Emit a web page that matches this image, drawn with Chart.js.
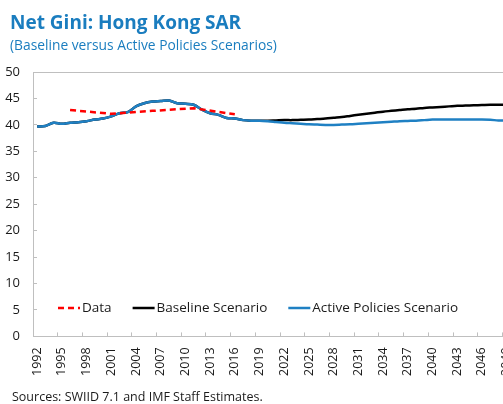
<!DOCTYPE html>
<html>
<head>
<meta charset="utf-8">
<script src="https://cdn.jsdelivr.net/npm/chart.js@4.4.0/dist/chart.umd.min.js"></script>
<style>
  html, body { margin: 0; padding: 0; background: #fff; overflow: hidden; }
  #c { display: block; }
</style>
</head>
<body>
<canvas id="c" width="503" height="404" style="width:503px;height:404px"></canvas>
<script>
const years = [];
for (let y = 1992; y <= 2050; y++) years.push(String(y));

const dataSeries = [
  null, null, null, null, 42.8, null, null, null, null, 42.1,
  null, null, null, null, 42.65, null, null, null, null, 43.15,
  null, null, null, null, 42.0
];

const baseline = [
  39.7, 39.8, 40.4, 40.2, 40.4, 40.5, 40.7, 41.0, 41.2, 41.6,
  42.2, 42.4, 43.5, 44.1, 44.4, 44.5, 44.6, 44.1, 44.0, 43.8,
  42.9, 42.2, 41.9, 41.3, 41.2, 40.9, 40.8, 40.8, 40.8, 40.85,
  40.9, 40.9, 40.95, 41.0, 41.1, 41.2, 41.35, 41.5, 41.7, 41.9,
  42.1, 42.3, 42.5, 42.65, 42.8, 42.95, 43.05, 43.2, 43.3, 43.4,
  43.5, 43.6, 43.65, 43.7, 43.75, 43.8, 43.8, 43.8, 43.8
];

const activePolicies = [
  39.7, 39.8, 40.4, 40.2, 40.4, 40.5, 40.7, 41.0, 41.2, 41.6,
  42.2, 42.4, 43.5, 44.1, 44.4, 44.5, 44.6, 44.1, 44.0, 43.8,
  42.9, 42.2, 41.9, 41.3, 41.2, 40.9, 40.8, 40.8, 40.7, 40.55,
  40.4, 40.3, 40.2, 40.1, 40.05, 40.0, 40.0, 40.05, 40.1, 40.2,
  40.3, 40.4, 40.5, 40.6, 40.7, 40.75, 40.8, 40.9, 41.0, 41.0,
  41.0, 41.0, 41.0, 41.0, 41.0, 40.95, 40.85, 40.8, 40.75
];

const seriesNames = ['Data', 'Baseline Scenario', 'Active Policies Scenario'];
const yTicks = [0, 5, 10, 15, 20, 25, 30, 35, 40, 45, 50];

const titleText = 'Net Gini: Hong Kong SAR';
const subtitleText = '(Baseline versus Active Policies Scenarios)';
const sourceText = 'Sources: SWIID 7.1 and IMF Staff Estimates.';

const FONT = "'Open Sans', sans-serif";
const TITLE_COLOR = '#1a7dbf';
const AXIS_COLOR = '#bfbfbf';

// The plot in the reference runs past the right edge of the picture.
const PLOT_RIGHT = 519;

const extendPlugin = {
  id: 'extendArea',
  afterLayout(chart) {
    const xs = chart.scales.x;
    chart.chartArea.right = PLOT_RIGHT;
    chart.chartArea.width = PLOT_RIGHT - chart.chartArea.left;
    xs.right = PLOT_RIGHT;
    xs.width = PLOT_RIGHT - xs.left;
    xs.configure();
  }
};

const legendPlugin = {
  id: 'insideLegend',
  afterDatasetsDraw(chart) {
    const ctx = chart.ctx;
    const order = seriesNames.map(n => chart.data.datasets.find(d => d.label === n));
    let x = 58;
    const y = 308;
    ctx.save();
    ctx.font = "13.5px " + FONT;
    ctx.textBaseline = 'middle';
    ctx.textAlign = 'left';
    order.forEach(ds => {
      ctx.beginPath();
      ctx.strokeStyle = ds.borderColor;
      ctx.lineWidth = 2.5;
      ctx.setLineDash(ds.borderDash || []);
      ctx.moveTo(x, y);
      ctx.lineTo(x + 22, y);
      ctx.stroke();
      ctx.setLineDash([]);
      ctx.fillStyle = '#1a1a1a';
      ctx.fillText(ds.label, x + 24, y);
      x += 24 + ctx.measureText(ds.label).width + 21;
    });
    ctx.restore();
  }
};

const textPlugin = {
  id: 'texts',
  afterDraw(chart) {
    const ctx = chart.ctx;
    ctx.save();
    ctx.textBaseline = 'middle';
    ctx.textAlign = 'left';
    ctx.fillStyle = TITLE_COLOR;
    ctx.font = "bold 19px " + FONT;
    ctx.fillText(titleText, 10, 24);
    ctx.font = "13.8px " + FONT;
    ctx.fillText(subtitleText, 10, 46);
    ctx.font = "12.5px " + FONT;
    ctx.fillStyle = '#1a1a1a';
    ctx.fillText(sourceText, 12, 397);
    ctx.restore();
  }
};

new Chart(document.getElementById('c'), {
  type: 'line',
  data: {
    labels: years,
    datasets: [
      {
        label: seriesNames[0], data: dataSeries, borderColor: '#ff0000',
        borderDash: [6, 4], borderWidth: 2.5, pointRadius: 0, spanGaps: true,
        tension: 0, fill: false
      },
      {
        label: seriesNames[2], data: activePolicies, borderColor: '#1f80c3',
        borderWidth: 2.5, pointRadius: 0, tension: 0.35, fill: false
      },
      {
        label: seriesNames[1], data: baseline, borderColor: '#000000',
        borderWidth: 2.5, pointRadius: 0, tension: 0.35, fill: false
      }
    ]
  },
  options: {
    responsive: false,
    maintainAspectRatio: false,
    animation: false,
    devicePixelRatio: 1,
    layout: { padding: { left: 0, right: 3, top: 72, bottom: 13 } },
    plugins: {
      legend: { display: false },
      tooltip: { enabled: false },
      title: { display: false },
      subtitle: { display: false }
    },
    scales: {
      x: {
        type: 'category',
        offset: true,
        border: { display: true, color: AXIS_COLOR, width: 1 },
        grid: {
          display: true, offset: true, drawOnChartArea: false, tickLength: -4,
          tickColor: (c) => (c.index > 0 && c.index % 3 === 0) ? AXIS_COLOR : 'rgba(0,0,0,0)'
        },
        ticks: {
          autoSkip: false, maxRotation: 90, minRotation: 90, padding: 15,
          color: '#1a1a1a', font: { family: FONT, size: 12.5 },
          callback: function (v, i) { return i % 3 === 0 ? this.getLabelForValue(v) : ''; }
        }
      },
      y: {
        min: 0, max: 50,
        border: { display: true, color: AXIS_COLOR, width: 1 },
        afterFit: (s) => { s.width = 33; },
        afterBuildTicks: (s) => { s.ticks = yTicks.map(v => ({ value: v })); },
        grid: {
          display: true, drawOnChartArea: true, tickLength: -4,
          color: (c) => (c.tick && c.tick.value === 50) ? AXIS_COLOR : 'rgba(0,0,0,0)',
          tickColor: AXIS_COLOR
        },
        ticks: {
          padding: 17, color: '#1a1a1a', font: { family: FONT, size: 13 }
        }
      }
    }
  },
  plugins: [extendPlugin, legendPlugin, textPlugin]
});
</script>
</body>
</html>
